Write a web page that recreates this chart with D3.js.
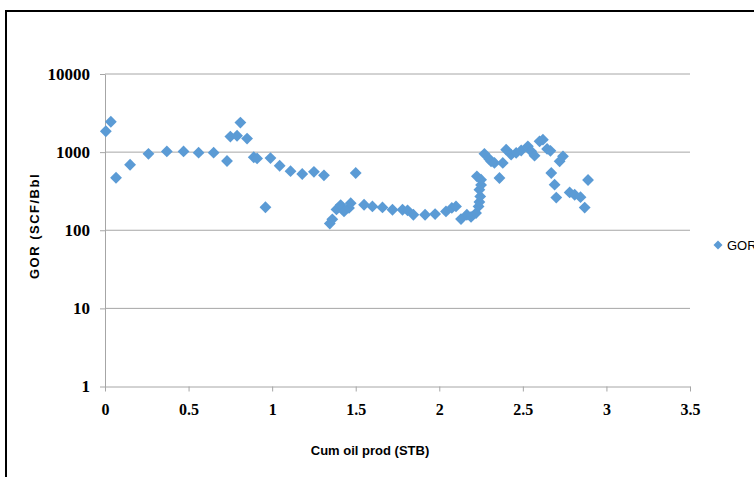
<!DOCTYPE html>
<html>
<head>
<meta charset="utf-8">
<script src="https://cdn.jsdelivr.net/npm/d3@7"></script>
<style>
  body { margin: 0; background: #fff; }
  svg { display: block; }
</style>
</head>
<body>
<svg id="chart" width="754" height="477"></svg>
<script>
// cumulative oil produced (x) and GOR (y)
const cumOil = [
  0.005, 0.035, 0.066, 0.15, 0.26, 0.37, 0.47, 0.56, 0.65, 0.73,
  0.75, 0.79, 0.81, 0.85, 0.89, 0.91, 0.96, 0.99, 1.045, 1.11,
  1.18, 1.25, 1.31, 1.345, 1.36, 1.385, 1.41, 1.43, 1.46, 1.47,
  1.50, 1.55, 1.60, 1.66, 1.72, 1.78, 1.81, 1.845, 1.915, 1.975,
  2.04, 2.075, 2.10, 2.13, 2.165, 2.19, 2.22, 2.235, 2.24, 2.245,
  2.24, 2.25, 2.225, 2.25, 2.27, 2.30, 2.31, 2.33, 2.36, 2.38,
  2.40, 2.43, 2.46, 2.49, 2.53, 2.55, 2.57, 2.60, 2.62, 2.645,
  2.665, 2.67, 2.69, 2.70, 2.72, 2.74, 2.78, 2.81, 2.845, 2.87, 2.89
];
const gor = [
  1850, 2450, 470, 690, 950, 1020, 1020, 985, 985, 770,
  1580, 1620, 2390, 1490, 860, 830, 197, 840, 670, 570,
  525, 560, 505, 122, 138, 185, 210, 174, 193, 222,
  541, 212, 202, 196, 183, 183, 180, 158, 158, 161,
  174, 193, 202, 139, 158, 148, 166, 202, 230, 271,
  331, 380, 490, 444, 950, 810, 762, 727, 467, 727,
  1076, 929, 977, 1050, 1187, 1024, 900, 1375, 1445, 1100,
  1040, 541, 383, 262, 762, 883, 305, 285, 265, 195, 440
];
const xTicks = [0, 0.5, 1, 1.5, 2, 2.5, 3, 3.5];
const yTicks = [1, 10, 100, 1000, 10000];
const seriesName = "GOR";

const points = cumOil.map((d, i) => ({x: d, y: gor[i]}));

const svg = d3.select("#chart");
const plot = {left: 105, right: 690, top: 74, bottom: 386.5};
const blue = "#5B9BD5";
const gridCol = "#a6a6a6";

// outer frame of the chart area (runs off the right and bottom)
svg.append("rect")
    .attr("x", 6).attr("y", 11)
    .attr("width", 900).attr("height", 600)
    .attr("fill", "none")
    .attr("stroke", "#000")
    .attr("stroke-width", 2);

const xScale = d3.scaleLinear()
    .domain([0, 3.5])
    .range([plot.left, plot.right]);

const yScale = d3.scaleLog()
    .domain([1, 10000])
    .range([plot.bottom, plot.top]);

// horizontal gridlines
svg.append("g")
  .selectAll("line")
  .data(yTicks.slice(1))
  .join("line")
    .attr("x1", plot.left).attr("x2", plot.right)
    .attr("y1", d => yScale(d)).attr("y2", d => yScale(d))
    .attr("stroke", gridCol).attr("stroke-width", 1);

// y axis
const yAxis = d3.axisLeft(yScale)
    .tickValues(yTicks)
    .tickFormat(d3.format("d"))
    .tickSize(5)
    .tickSizeOuter(0)
    .tickPadding(10);

svg.append("g")
    .attr("transform", `translate(${plot.left},0)`)
    .call(yAxis)
    .call(g => g.select(".domain").attr("stroke", gridCol))
    .call(g => g.selectAll(".tick line").attr("stroke", gridCol))
    .call(g => g.selectAll(".tick text")
        .attr("fill", "#000")
        .style("font-family", "'Liberation Serif', 'Times New Roman', serif")
        .style("font-weight", "bold")
        .style("font-size", "17px"));

// x axis
const xAxis = d3.axisBottom(xScale)
    .tickValues(xTicks)
    .tickFormat(d => d)
    .tickSize(5)
    .tickSizeOuter(0)
    .tickPadding(12);

svg.append("g")
    .attr("transform", `translate(0,${plot.bottom})`)
    .call(xAxis)
    .call(g => g.select(".domain").attr("stroke", gridCol))
    .call(g => g.selectAll(".tick line").attr("stroke", gridCol))
    .call(g => g.selectAll(".tick text")
        .attr("fill", "#000")
        .style("font-family", "'Liberation Serif', 'Times New Roman', serif")
        .style("font-weight", "bold")
        .style("font-size", "16px"));

// axis titles
svg.append("text")
    .attr("x", 370).attr("y", 455)
    .attr("text-anchor", "middle")
    .style("font-family", "'Liberation Sans', Arial, sans-serif")
    .style("font-weight", "bold")
    .style("font-size", "13px")
    .text("Cum oil prod (STB)");

svg.append("text")
    .attr("transform", "translate(39,226) rotate(-90)")
    .attr("text-anchor", "middle")
    .style("font-family", "'Liberation Sans', Arial, sans-serif")
    .style("font-weight", "bold")
    .style("font-size", "13px")
    .style("letter-spacing", "1.5px")
    .text("GOR (SCF/Bbl");

// markers
const diamond = d3.symbol(d3.symbolSquare, 70);

svg.append("g")
  .selectAll("path")
  .data(points)
  .join("path")
    .attr("d", diamond)
    .attr("transform", d => `translate(${xScale(d.x)},${yScale(d.y)}) rotate(45)`)
    .attr("fill", blue);

// legend
const legend = svg.append("g").attr("transform", "translate(718,245)");
legend.append("path")
    .attr("d", d3.symbol(d3.symbolSquare, 40))
    .attr("transform", "rotate(45)")
    .attr("fill", blue);
legend.append("text")
    .attr("x", 9).attr("y", 5)
    .style("font-family", "'Liberation Sans', Arial, sans-serif")
    .style("font-size", "13px")
    .text(seriesName);
</script>
</body>
</html>
